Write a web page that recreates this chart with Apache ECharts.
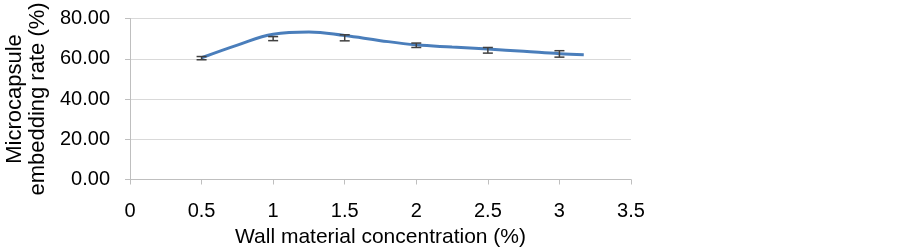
<!DOCTYPE html>
<html>
<head>
<meta charset="utf-8">
<script src="https://cdn.jsdelivr.net/npm/echarts@6/dist/echarts.min.js"></script>
<style>
  html, body { margin: 0; padding: 0; background: #fff; }
  #chart { width: 903px; height: 248px; }
</style>
</head>
<body>
<div id="chart"></div>
<script>
// curve as it is drawn (x = wall material concentration %)
const curveX = [0.5, 0.75, 1, 1.25, 1.5, 1.75, 2, 2.25, 2.5, 2.75, 3, 3.17];
const curveY = [60.5, 66.8, 72.2, 73.3, 71.5, 69.0, 66.9, 65.8, 64.8, 63.7, 62.5, 62.0];
// measured points with error bars
const concentration = [0.5, 1, 1.5, 2, 2.5, 3];
const embeddingRate = [60.3, 70.0, 70.4, 66.7, 64.2, 62.4];
const errorSize = [0.8, 1.0, 1.5, 1.1, 1.4, 1.6];

const lineColor = '#4a7ebb';
const font = 'Liberation Sans, Arial, sans-serif';

const myChart = echarts.init(document.getElementById('chart'));

const errData = concentration.map((x, i) => [x, embeddingRate[i] - errorSize[i], embeddingRate[i] + errorSize[i]]);

const option = {
  animation: false,
  grid: { left: 130, right: 272, top: 18.5, bottom: 68.5, outerBoundsMode: 'none', containLabel: false },
  xAxis: {
    type: 'value',
    min: 0,
    max: 3.5,
    interval: 0.5,
    name: 'Wall material concentration (%)',
    nameLocation: 'middle',
    nameGap: 46,
    nameTextStyle: { fontFamily: font, fontSize: 21, color: '#000' },
    axisLine: { show: true, lineStyle: { color: '#bfbfbf', width: 1 } },
    axisTick: { show: true, length: 5, lineStyle: { color: '#bfbfbf' } },
    axisLabel: { fontFamily: font, fontSize: 20, color: '#000', margin: 22 },
    splitLine: { show: false }
  },
  yAxis: {
    type: 'value',
    min: 0,
    max: 80,
    interval: 20,
    name: 'Microcapsule\nembedding rate (%)',
    nameLocation: 'middle',
    nameGap: 78,
    nameTextStyle: { fontFamily: font, fontSize: 22, color: '#000', lineHeight: 23 },
    axisLine: { show: true, lineStyle: { color: '#bfbfbf', width: 1 } },
    axisTick: { show: true, length: 5, lineStyle: { color: '#bfbfbf' } },
    axisLabel: {
      fontFamily: font, fontSize: 20, color: '#000', margin: 20,
      formatter: v => v.toFixed(2)
    },
    splitLine: { show: true, lineStyle: { color: '#d9d9d9', width: 1 } }
  },
  series: [
    {
      name: 'rate',
      type: 'line',
      data: curveX.map((x, i) => [x, curveY[i]]),
      smooth: 0.4,
      showSymbol: false,
      lineStyle: { color: lineColor, width: 3 },
      z: 3
    },
    {
      name: 'error',
      type: 'custom',
      data: errData,
      z: 4,
      renderItem: (params, api) => {
        const x = api.value(0);
        const lo = api.coord([x, api.value(1)]);
        const hi = api.coord([x, api.value(2)]);
        const half = 5;
        const style = { stroke: '#404040', lineWidth: 1.5, fill: null };
        return {
          type: 'group',
          children: [
            { type: 'line', shape: { x1: lo[0], y1: lo[1], x2: hi[0], y2: hi[1] }, style },
            { type: 'line', shape: { x1: lo[0] - half, y1: lo[1], x2: lo[0] + half, y2: lo[1] }, style },
            { type: 'line', shape: { x1: hi[0] - half, y1: hi[1], x2: hi[0] + half, y2: hi[1] }, style }
          ]
        };
      }
    }
  ]
};

myChart.setOption(option);
</script>
</body>
</html>
